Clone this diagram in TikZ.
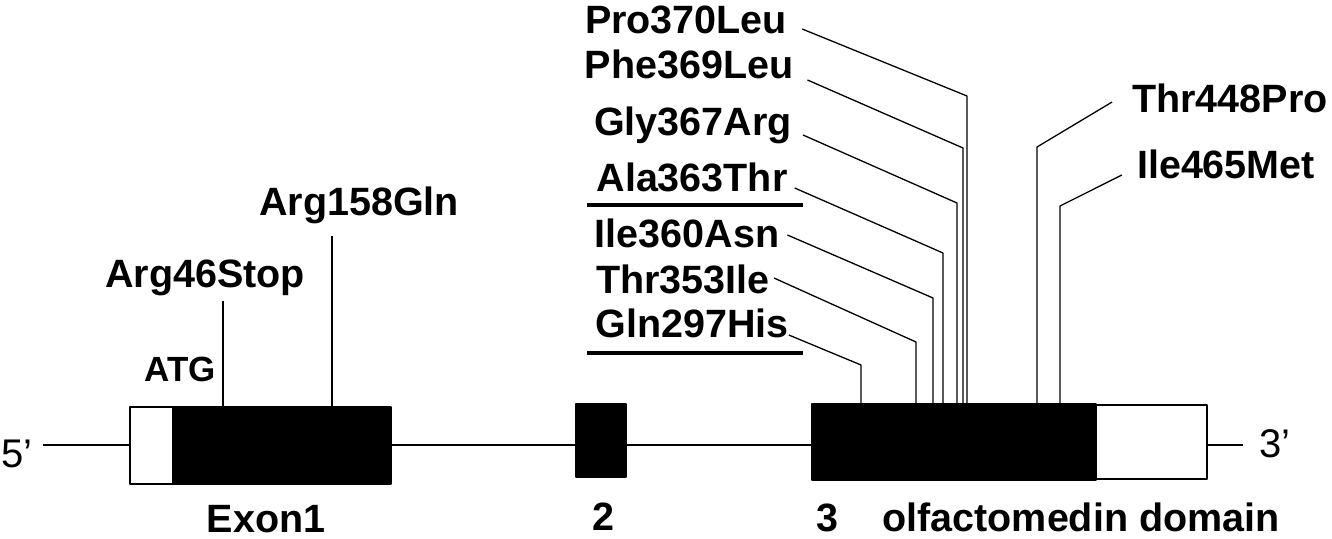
\documentclass[tikz,border=0pt]{standalone}
\usepackage{fontspec}
\setmainfont{Liberation Sans}
\usetikzlibrary{positioning}

\begin{document}
\begin{tikzpicture}[x=1pt, y=-1pt, line join=bevel,
  mut/.style={font=\fontsize{39.5}{40}\selectfont\bfseries, inner sep=0pt, anchor=base},
  ends/.style={font=\fontsize{40}{40}\selectfont, inner sep=0pt, anchor=base},
  exon/.style={rectangle, draw, line width=1.5pt, fill=black, inner sep=0pt, outer sep=0pt},
  utr/.style={exon, fill=white},
  lead/.style={line width=1.3pt},
  gene/.style={line width=1.8pt},
  bar/.style={line width=3.5pt}]
\useasboundingbox (0,0) rectangle (1332,538);
% Gene
\coordinate (a5) at (43,445);
\coordinate (a3) at (1243,445);
\draw[gene] (a5) -- (a3);
\node[ends] (p5) at (17,467) {5'};
\node[ends] (p3) at (1275,457) {3'};
% Exons
\node[exon, minimum width=218pt, minimum height=77pt] (ex1) at (282,445.5) {};
\node[utr, minimum width=43pt, minimum height=77pt, left=0pt of ex1] (utr5) {};
\node[exon, minimum width=50pt, minimum height=73pt] (ex2) at (601,440.5) {};
\node[exon, minimum width=284pt, minimum height=76pt] (ex3) at (954,442) {};
\node[utr, minimum width=111pt, minimum height=74pt, right=0pt of ex3] (utr3) {};
% Exon names
\node[mut] (n1) at (266,532) {Exon1};
\node[mut] (n2) at (603,530) {2};
\node[mut] (n3) at (827,531) {3};
\node[mut] (olf) at (1081,531) {olfactomedin domain};
\node[mut, font=\fontsize{35}{36}\selectfont\bfseries] (atg) at (180,381) {ATG};
% Mutations, exon 1
\node[mut] (l46) at (205,287) {Arg46Stop};
\node[mut] (l158) at (359,215) {Arg158Gln};
\coordinate (m46) at (223,301);
\coordinate (m158) at (332,236);
\draw[lead] (m46) -- (m46 |- ex1.north);
\draw[lead] (m158) -- (m158 |- ex1.north);
% Mutations, exon 3
\node[mut] (l370) at (686,33) {Pro370Leu};
\node[mut] (l369) at (689,78) {Phe369Leu};
\node[mut] (l367) at (693,135) {Gly367Arg};
\node[mut] (l363) at (692,191) {Ala363Thr};
\node[mut] (l360) at (687,247) {Ile360Asn};
\node[mut] (l353) at (683,293) {Thr353Ile};
\node[mut] (l297) at (692,337) {Gln297His};
\node[mut] (l448) at (1230,112) {Thr448Pro};
\node[mut] (l465) at (1226,178) {Ile465Met};
\draw[bar] (587,205) -- (803,205);
\draw[bar] (587,353) -- (803,353);
% Leaders
\coordinate (b370) at (967,96);
\coordinate (b369) at (963,148);
\coordinate (b367) at (957,203);
\coordinate (b363) at (943,253);
\coordinate (b360) at (933,298);
\coordinate (b353) at (916,342);
\coordinate (b297) at (861,365);
\coordinate (b448) at (1037,147);
\coordinate (b465) at (1060,206);
\draw[lead] ([xshift=15pt,yshift=4pt]l370.base east) -- (b370) -- (b370 |- ex3.north);
\draw[lead] ([xshift=14pt,yshift=-2pt]l369.base east) -- (b369) -- (b369 |- ex3.north);
\draw[lead] ([xshift=11pt]l367.base east) -- (b367) -- (b367 |- ex3.north);
\draw[lead] ([xshift=7pt,yshift=3pt]l363.base east) -- (b363) -- (b363 |- ex3.north);
\draw[lead] ([xshift=8pt,yshift=12pt]l360.base east) -- (b360) -- (b360 |- ex3.north);
\draw[lead] ([xshift=4pt,yshift=15pt]l353.base east) -- (b353) -- (b353 |- ex3.north);
\draw[lead] ([xshift=0pt,yshift=2pt]l297.base east) -- (b297) -- (b297 |- ex3.north);
\draw[lead] ([xshift=-20pt,yshift=10pt]l448.base west) -- (b448) -- (b448 |- ex3.north);
\draw[lead] ([xshift=-15pt,yshift=3pt]l465.base west) -- (b465) -- (b465 |- ex3.north);
\end{tikzpicture}
\end{document}
